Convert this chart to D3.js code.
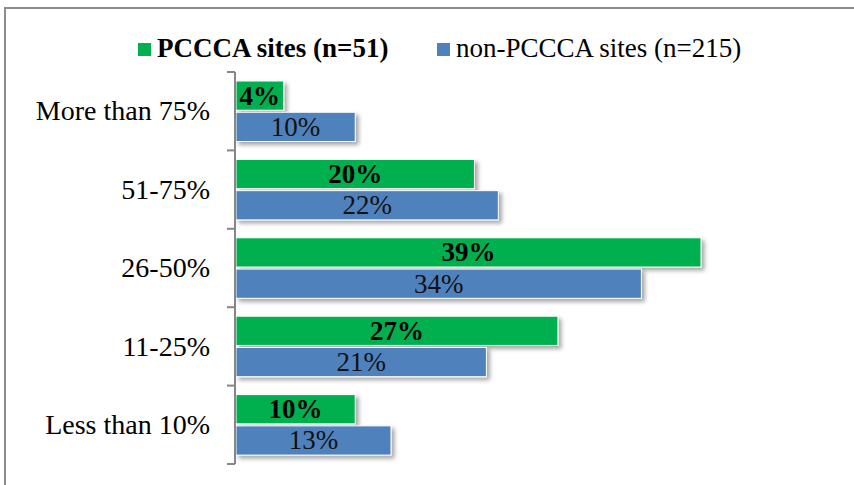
<!DOCTYPE html>
<html>
<head>
<meta charset="utf-8">
<script src="https://cdn.jsdelivr.net/npm/d3@7"></script>
<style>
  body { margin: 0; background: #fff; }
  svg { display: block; font-family: "Liberation Serif", serif; }
</style>
</head>
<body>
<div id="chart"></div>
<script>
// chart data
var categories = ["More than 75%", "51-75%", "26-50%", "11-25%", "Less than 10%"];
var pcccaValues = [4, 20, 39, 27, 10];
var nonPcccaValues = [10, 22, 34, 21, 13];
var seriesNames = ["PCCCA sites (n=51)", "non-PCCCA sites (n=215)"];
var seriesColors = ["#00b050", "#4f81bd"];

var width = 854, height = 485;

var svg = d3.select("#chart").append("svg")
    .attr("width", width)
    .attr("height", height);

var defs = svg.append("defs");
var shadow = defs.append("filter")
    .attr("id", "shadow")
    .attr("x", "-10%").attr("y", "-20%")
    .attr("width", "130%").attr("height", "160%");
shadow.append("feDropShadow")
    .attr("dx", 3).attr("dy", 3)
    .attr("stdDeviation", 2)
    .attr("flood-color", "#000")
    .attr("flood-opacity", 0.35);

// outer frame
svg.append("rect")
    .attr("x", 5).attr("y", 8)
    .attr("width", width + 10).attr("height", height + 10)
    .attr("fill", "none")
    .attr("stroke", "#8c8c8c")
    .attr("stroke-width", 2);

const x = d3.scaleLinear().domain([0, 39]).range([236, 701]);
const y = d3.scaleBand().domain(categories).range([72, 464]);
const y1 = d3.scaleBand().domain([0, 1]).range([9, 69.5]).paddingInner(0.065);

// bars
let groups = svg.selectAll("g.group")
    .data(categories)
    .enter()
    .append("g")
    .attr("class", "group")
    .attr("transform", d => `translate(0,${y(d)})`);

[pcccaValues, nonPcccaValues].forEach((vals, si) => {
    groups.append("rect")
        .attr("x", x(0))
        .attr("y", y1(si))
        .attr("width", (d, i) => x(vals[i]) - x(0))
        .attr("height", y1.bandwidth())
        .attr("fill", seriesColors[si])
        .attr("stroke", "#fff")
        .attr("stroke-width", 1)
        .attr("filter", "url(#shadow)");

    groups.append("text")
        .attr("x", (d, i) => (x(0) + x(vals[i])) / 2)
        .attr("y", y1(si) + y1.bandwidth() / 2 + 9)
        .attr("text-anchor", "middle")
        .attr("font-size", 27)
        .attr("font-weight", si === 0 ? "bold" : "normal")
        .attr("fill", si === 0 ? "#000" : "#111")
        .text((d, i) => vals[i] + "%");
});

// category axis
let axis = svg.append("g")
    .attr("transform", `translate(${x(0) - 1},0)`)
    .call(d3.axisLeft(y).tickSize(0).tickPadding(25));
axis.select(".domain")
    .attr("stroke", "#868686")
    .attr("stroke-width", 2)
    .attr("d", `M0,${y.range()[0]}V${y.range()[1]}`);
axis.selectAll(".tick text")
    .attr("font-family", "Liberation Serif, serif")
    .attr("font-size", 28)
    .attr("fill", "#000")
    .attr("dy", "0.33em");

// bracket ticks between categories
let tickYs = categories.map(c => y(c)).concat([y.range()[1]]);
axis.selectAll("line.sep")
    .data(tickYs)
    .enter()
    .append("line")
    .attr("class", "sep")
    .attr("x1", -8).attr("x2", 0)
    .attr("y1", d => d).attr("y2", d => d)
    .attr("stroke", "#868686")
    .attr("stroke-width", 2);

// legend
const legendItems = [
    {name: seriesNames[0], color: seriesColors[0], x: 138, bold: true},
    {name: seriesNames[1], color: seriesColors[1], x: 437, bold: false}
];
let legend = svg.append("g");
legend.selectAll("rect")
    .data(legendItems)
    .enter()
    .append("rect")
    .attr("x", d => d.x)
    .attr("y", 43)
    .attr("width", 13)
    .attr("height", 13)
    .attr("fill", d => d.color);
legend.selectAll("text")
    .data(legendItems)
    .enter()
    .append("text")
    .attr("x", d => d.x + 19)
    .attr("y", 57)
    .attr("font-size", 27)
    .attr("font-weight", d => d.bold ? "bold" : "normal")
    .attr("fill", "#000")
    .text(d => d.name);
</script>
</body>
</html>
